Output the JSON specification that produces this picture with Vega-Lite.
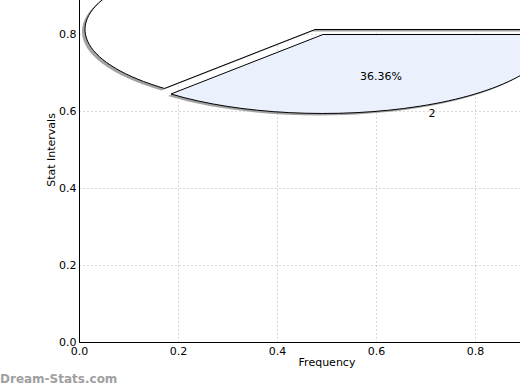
{
  "$schema": "https://vega.github.io/schema/vega-lite/v6.json",
  "width": 495,
  "height": 385,
  "autosize": {"type": "none"},
  "padding": {"left": 79, "top": -43, "right": -54, "bottom": 48},
  "background": "white",
  "config": {
    "font": "DejaVu Sans",
    "view": {"stroke": "black", "strokeWidth": 1},
    "axis": {
      "domainColor": "black",
      "domainWidth": 1,
      "ticks": false,
      "labelFontSize": 11,
      "labelColor": "black",
      "labelFont": "DejaVu Sans",
      "titleFont": "DejaVu Sans",
      "titleFontSize": 11,
      "titleFontWeight": "normal",
      "titleColor": "black",
      "grid": true,
      "gridColor": "#b0b0b0",
      "gridDash": [1, 3],
      "gridWidth": 1,
      "labelOverlap": false,
      "labelFlush": false,
      "format": ".1f"
    }
  },
  "title": {
    "text": "Dream-Stats.com",
    "orient": "bottom",
    "anchor": "start",
    "frame": "group",
    "dx": -79,
    "offset": 7,
    "fontSize": 12,
    "fontWeight": "bold",
    "color": "#a0a0a0",
    "font": "DejaVu Sans"
  },
  "datasets": {
    "slices": [
      {"slice": "1", "share": 63.64, "x": 0.4768, "y": 0.8117},
      {"slice": "2", "share": 36.36, "x": 0.4929, "y": 0.7987}
    ],
    "labels": [
      {"text": "36.36%", "x": 0.6101, "y": 0.6883},
      {"text": "2", "x": 0.7131, "y": 0.5930}
    ]
  },
  "encoding": {
    "x": {
      "field": "x",
      "type": "quantitative",
      "scale": {"domain": [0, 1], "nice": false},
      "axis": {"title": "Frequency", "values": [0, 0.2, 0.4, 0.6, 0.8], "labelPadding": 3, "titlePadding": 0}
    },
    "y": {
      "field": "y",
      "type": "quantitative",
      "scale": {"domain": [0, 1], "nice": false},
      "axis": {"title": "Stat Intervals", "values": [0, 0.2, 0.4, 0.6, 0.8], "labelPadding": 3, "titlePadding": 2}
    }
  },
  "layer": [
    {
      "data": {"name": "slices"},
      "mark": {"type": "point", "filled": true, "opacity": 1, "fillOpacity": 1, "size": 211600, "strokeWidth": 0, "xOffset": -3, "yOffset": 2, "fill": "#a3a3a3"},
      "encoding": {
        "shape": {
          "field": "slice",
          "type": "nominal",
          "scale": {"domain": ["1", "2"], "range": ["M0,0 L1,0 A1,0.33913 0 1 0 -0.6547,0.2563 Z", "M0,0 L1,0 A1,0.33913 0 0 1 -0.6610,0.2587 Z"]},
          "legend": null
        }
      }
    },
    {
      "data": {"name": "slices"},
      "mark": {"type": "point", "filled": true, "opacity": 1, "fillOpacity": 1, "size": 211600, "stroke": "black", "strokeWidth": 1, "strokeOpacity": 1},
      "encoding": {
        "shape": {
          "field": "slice",
          "type": "nominal",
          "scale": {"domain": ["1", "2"], "range": ["M0,0 L1,0 A1,0.33913 0 1 0 -0.6547,0.2563 Z", "M0,0 L1,0 A1,0.33913 0 0 1 -0.6610,0.2587 Z"]},
          "legend": null
        },
        "fill": {
          "field": "slice",
          "type": "nominal",
          "scale": {"domain": ["1", "2"], "range": ["#ffffff", "#eaf0fc"]},
          "legend": null
        }
      }
    },
    {
      "data": {"name": "labels"},
      "mark": {"type": "text", "fontSize": 11, "font": "DejaVu Sans", "color": "black", "align": "center", "baseline": "middle"},
      "encoding": {"text": {"field": "text", "type": "nominal"}}
    }
  ]
}
